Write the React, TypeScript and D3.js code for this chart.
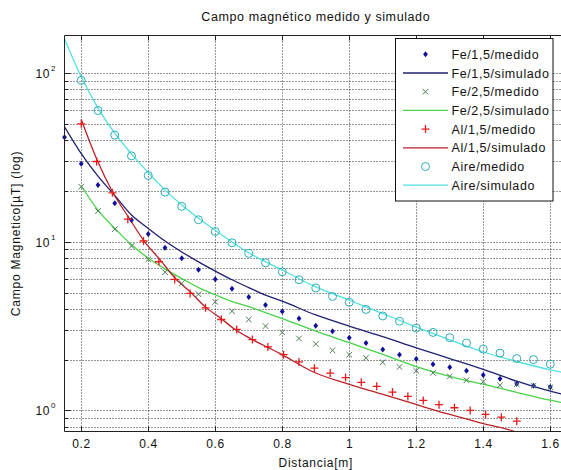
import React from 'react';
import * as d3 from 'd3';

// ---------- data ----------
const titleText = 'Campo magnético medido y simulado';
const xLabelText = 'Distancia[m]';
const yLabelText = 'Campo Magnetico[µT] (log)';

const xTickValues = [0.2, 0.4, 0.6, 0.8, 1.0, 1.2, 1.4, 1.6];
const xTickLabels = ['0.2', '0.4', '0.6', '0.8', '1', '1.2', '1.4', '1.6'];
const yDecadeValues = [1, 10, 100];
const yDecadeExponents = ['0', '1', '2'];

const xDomain = [0.15, 1.65];
const yDomain = [0.75, 167];

// Fe/1,5 medido
const xFe15Med = [0.15, 0.2, 0.25, 0.3, 0.35, 0.4, 0.45, 0.5, 0.55, 0.6, 0.65, 0.7, 0.75, 0.8, 0.85, 0.9, 0.95, 1.0, 1.05, 1.1, 1.15, 1.2, 1.25, 1.3, 1.35, 1.4, 1.45, 1.5, 1.55, 1.6];
const yFe15Med = [41.7, 28.96, 21.7, 16.9, 13.45, 11.1, 9.21, 7.97, 6.82, 6.0, 5.26, 4.71, 4.22, 3.86, 3.51, 3.18, 2.95, 2.7, 2.51, 2.3, 2.14, 2.02, 1.88, 1.8, 1.72, 1.62, 1.54, 1.44, 1.4, 1.375];
// Fe/1,5 simulado
const xFe15Sim = [0.15, 0.2, 0.25, 0.3, 0.35, 0.4, 0.45, 0.5, 0.55, 0.6, 0.65, 0.7, 0.75, 0.8, 0.9, 1.0, 1.1, 1.2, 1.3, 1.4, 1.5, 1.6, 1.65];
const yFe15Sim = [48, 33.3, 24.5, 18.8, 14.4, 12.0, 10.1, 8.7, 7.6, 6.7, 5.95, 5.35, 4.82, 4.44, 3.68, 3.16, 2.74, 2.35, 2.03, 1.75, 1.49, 1.3, 1.23];

// Fe/2,5 medido
const xFe25Med = [0.2, 0.25, 0.3, 0.35, 0.4, 0.45, 0.5, 0.55, 0.6, 0.65, 0.7, 0.75, 0.8, 0.85, 0.9, 0.95, 1.0, 1.05, 1.1, 1.15, 1.2, 1.25, 1.3, 1.35, 1.4, 1.45, 1.5, 1.55, 1.6];
const yFe25Med = [21.2, 15.2, 11.85, 9.43, 7.85, 6.6, 5.66, 4.89, 4.4, 3.87, 3.46, 3.16, 2.9, 2.67, 2.48, 2.27, 2.14, 2.05, 1.93, 1.81, 1.72, 1.67, 1.59, 1.51, 1.48, 1.41, 1.43, 1.4, 1.37];
// Fe/2,5 simulado
const xFe25Sim = [0.2, 0.25, 0.3, 0.35, 0.4, 0.45, 0.5, 0.55, 0.6, 0.65, 0.7, 0.75, 0.8, 0.9, 1.0, 1.1, 1.2, 1.3, 1.4, 1.5, 1.6, 1.65];
const yFe25Sim = [21.4, 15.4, 12.0, 9.6, 8.0, 6.9, 6.05, 5.35, 4.85, 4.42, 4.12, 3.8, 3.5, 2.95, 2.52, 2.15, 1.82, 1.59, 1.43, 1.28, 1.15, 1.1];

// Al/1,5 medido
const xAl15Med = [0.2, 0.246, 0.293, 0.339, 0.386, 0.432, 0.479, 0.525, 0.571, 0.618, 0.664, 0.711, 0.757, 0.804, 0.85, 0.896, 0.943, 0.989, 1.036, 1.082, 1.129, 1.175, 1.221, 1.268, 1.314, 1.361, 1.407, 1.454, 1.5];
const yAl15Med = [50.0, 29.9, 19.5, 13.6, 10.1, 7.61, 5.98, 4.94, 4.06, 3.46, 3.02, 2.63, 2.38, 2.14, 1.94, 1.78, 1.665, 1.565, 1.467, 1.389, 1.284, 1.211, 1.147, 1.081, 1.037, 1.0, 0.947, 0.912, 0.864];
// Al/1,5 simulado
const xAl15Sim = [0.2, 0.247, 0.293, 0.343, 0.386, 0.436, 0.481, 0.525, 0.57, 0.617, 0.655, 0.7, 0.754, 0.794, 0.893, 0.993, 1.093, 1.192, 1.292, 1.391, 1.49, 1.5];
const yAl15Sim = [53, 30.6, 19.8, 13.8, 10.2, 7.79, 6.06, 5.05, 4.11, 3.51, 3.06, 2.7, 2.38, 2.17, 1.69, 1.44, 1.257, 1.096, 0.956, 0.845, 0.753, 0.74];

// Aire medido
const xAireMed = [0.2, 0.25, 0.3, 0.35, 0.4, 0.45, 0.5, 0.55, 0.6, 0.65, 0.7, 0.75, 0.8, 0.85, 0.9, 0.95, 1.0, 1.05, 1.1, 1.15, 1.2, 1.25, 1.3, 1.35, 1.4, 1.45, 1.5, 1.55, 1.6];
const yAireMed = [90.5, 60.0, 42.9, 32.3, 24.7, 19.7, 16.2, 13.5, 11.5, 9.86, 8.53, 7.5, 6.63, 5.95, 5.32, 4.74, 4.38, 3.97, 3.63, 3.38, 3.08, 2.9, 2.7, 2.51, 2.31, 2.19, 2.03, 2.0, 1.88];
// Aire simulado
const xAireSim = [0.15, 0.2, 0.25, 0.3, 0.35, 0.4, 0.45, 0.5, 0.55, 0.6, 0.7, 0.8, 0.9, 1.0, 1.1, 1.2, 1.3, 1.4, 1.5, 1.6, 1.65];
const yAireSim = [160, 95, 62, 44, 33.2, 25.7, 20.3, 16.5, 13.8, 11.7, 8.6, 6.8, 5.4, 4.5, 3.75, 3.12, 2.62, 2.22, 1.95, 1.74, 1.66];

const legendLabels = [
  'Fe/1,5/medido',
  'Fe/1,5/simulado',
  'Fe/2,5/medido',
  'Fe/2,5/simulado',
  'Al/1,5/medido',
  'Al/1,5/simulado',
  'Aire/medido',
  'Aire/simulado',
];

// ---------- styling ----------
const W = 561;
const H = 470;
const PL = 64.5;
const PR = 567;
const PT = 35.5;
const PB = 431.5;
const FONT = '"Liberation Sans", Arial, Helvetica, sans-serif';

const C_BLUE_M = '#10109a';
const C_BLUE_L = '#202072';
const C_GREEN_M = '#4f7a58';
const C_GREEN_L = '#48d448';
const C_RED_M = '#e41c1c';
const C_RED_L = '#ba2229';
const C_CYAN_M = '#2eaeb6';
const C_CYAN_L = '#52e0e0';

type MarkerKind = 'diamond' | 'x' | 'plus' | 'circle';

function Marker({ kind, x, y, color }: { kind: MarkerKind; x: number; y: number; color: string }) {
  if (kind === 'diamond') {
    return <path d={`M${x},${y - 3} L${x + 2.4},${y} L${x},${y + 3} L${x - 2.4},${y} Z`} fill={color} stroke="none" />;
  }
  if (kind === 'x') {
    const s = 2.8;
    return (
      <path d={`M${x - s},${y - s} L${x + s},${y + s} M${x - s},${y + s} L${x + s},${y - s}`} stroke={color} strokeWidth={1} fill="none" />
    );
  }
  if (kind === 'plus') {
    const s = 4;
    return <path d={`M${x - s},${y} L${x + s},${y} M${x},${y - s} L${x},${y + s}`} stroke={color} strokeWidth={1.3} fill="none" />;
  }
  return <circle cx={x} cy={y} r={4} stroke={color} strokeWidth={1} fill="none" />;
}

export default function App() {
  const xs = d3.scaleLinear().domain(xDomain).range([PL, PR]);
  const ys = d3.scaleLog().domain(yDomain).range([PB, PT]);

  const yGridTicks = ys.ticks();

  const lineGen = d3
    .line<[number, number]>()
    .x((d) => xs(d[0]))
    .y((d) => ys(d[1]))
    .curve(d3.curveMonotoneX);

  const zip = (a: number[], b: number[]) => a.map((v, i) => [v, b[i]] as [number, number]);

  const measured: { xs: number[]; ys: number[]; kind: MarkerKind; color: string }[] = [
    { xs: xFe15Med, ys: yFe15Med, kind: 'diamond', color: C_BLUE_M },
    { xs: xFe25Med, ys: yFe25Med, kind: 'x', color: C_GREEN_M },
    { xs: xAl15Med, ys: yAl15Med, kind: 'plus', color: C_RED_M },
    { xs: xAireMed, ys: yAireMed, kind: 'circle', color: C_CYAN_M },
  ];
  const simulated: { xs: number[]; ys: number[]; color: string }[] = [
    { xs: xFe15Sim, ys: yFe15Sim, color: C_BLUE_L },
    { xs: xFe25Sim, ys: yFe25Sim, color: C_GREEN_L },
    { xs: xAl15Sim, ys: yAl15Sim, color: C_RED_L },
    { xs: xAireSim, ys: yAireSim, color: C_CYAN_L },
  ];

  const legendItems: { type: 'm' | 'l'; kind?: MarkerKind; color: string }[] = [
    { type: 'm', kind: 'diamond', color: C_BLUE_M },
    { type: 'l', color: C_BLUE_L },
    { type: 'm', kind: 'x', color: C_GREEN_M },
    { type: 'l', color: C_GREEN_L },
    { type: 'm', kind: 'plus', color: C_RED_M },
    { type: 'l', color: C_RED_L },
    { type: 'm', kind: 'circle', color: C_CYAN_M },
    { type: 'l', color: C_CYAN_L },
  ];

  const LX = 395.5;
  const LY = 38.5;
  const LW = 157.5;
  const LH = 162.5;
  const rowY0 = 54.3;
  const rowStep = 18.7;

  return (
    <svg
      width={W}
      height={H}
      style={{ position: 'absolute', left: 0, top: 0, background: '#fff', display: 'block' }}
      fontFamily={FONT}
    >
      <rect x={0} y={0} width={W} height={H} fill="#fff" />
      <defs>
        <clipPath id="plotClip">
          <rect x={PL} y={PT} width={PR - PL} height={PB - PT} />
        </clipPath>
      </defs>

      {/* grid */}
      <g stroke="#333" strokeWidth={1} strokeDasharray="1 2">
        {xTickValues.map((v, i) => (
          <line key={'gx' + i} x1={Math.round(xs(v)) + 0.5} x2={Math.round(xs(v)) + 0.5} y1={PT} y2={PB} />
        ))}
        {yGridTicks.map((v, i) => (
          <line key={'gy' + i} x1={PL} x2={PR} y1={Math.round(ys(v)) + 0.5} y2={Math.round(ys(v)) + 0.5} />
        ))}
      </g>

      {/* simulated lines */}
      <g clipPath="url(#plotClip)" fill="none">
        {simulated.map((s, i) => (
          <path key={'s' + i} d={lineGen(zip(s.xs, s.ys)) || ''} stroke={s.color} strokeWidth={1.3} />
        ))}
      </g>

      {/* measured markers */}
      <g>
        {measured.map((m, i) =>
          m.xs.map((xv, j) => <Marker key={`m${i}-${j}`} kind={m.kind} x={xs(xv)} y={ys(m.ys[j])} color={m.color} />)
        )}
      </g>

      {/* axes frame */}
      <g stroke="#222" strokeWidth={1} fill="none">
        <line x1={PL} x2={PL} y1={PT} y2={PB} />
        <line x1={PL} x2={PR} y1={PB} y2={PB} />
        <line x1={PL} x2={PR} y1={PT} y2={PT} />
        <line x1={PR} x2={PR} y1={PT} y2={PB} />
        {xTickValues.map((v, i) => {
          const x = Math.round(xs(v)) + 0.5;
          return (
            <g key={'tx' + i}>
              <line x1={x} x2={x} y1={PB} y2={PB - 5} />
              <line x1={x} x2={x} y1={PT} y2={PT + 5} />
            </g>
          );
        })}
        {yGridTicks.map((v, i) => {
          const y = Math.round(ys(v)) + 0.5;
          const major = yDecadeValues.includes(v);
          return <line key={'ty' + i} x1={PL} x2={PL + (major ? 6 : 3.5)} y1={y} y2={y} />;
        })}
      </g>

      {/* x tick labels */}
      <g fontSize={12} fill="#111" textAnchor="middle" letterSpacing={0.6}>
        {xTickValues.map((v, i) => (
          <text key={'xl' + i} x={xs(v) + 0.3} y={448}>
            {xTickLabels[i]}
          </text>
        ))}
      </g>

      {/* y tick labels */}
      <g fill="#111">
        {yDecadeValues.map((v, i) => {
          const y = ys(v);
          return (
            <g key={'yl' + i}>
              <text x={50} y={y + 4.8} fontSize={12} textAnchor="end" letterSpacing={0.6}>
                10
              </text>
              <text x={51} y={y - 2} fontSize={8} textAnchor="start">
                {yDecadeExponents[i]}
              </text>
            </g>
          );
        })}
      </g>

      {/* title and labels */}
      <text x={(PL + PR) / 2} y={20.5} fontSize={12.5} textAnchor="middle" fill="#111" letterSpacing={0.6}>
        {titleText}
      </text>
      <text x={(PL + PR) / 2} y={467} fontSize={12} textAnchor="middle" fill="#111" letterSpacing={0.7}>
        {xLabelText}
      </text>
      <text
        transform={`translate(20, ${(PT + PB) / 2}) rotate(-90)`}
        fontSize={12}
        textAnchor="middle"
        fill="#111"
        letterSpacing={0.8}
      >
        {yLabelText}
      </text>

      {/* legend */}
      <g>
        <rect x={LX} y={LY} width={LW} height={LH} fill="#fff" stroke="#111" strokeWidth={1} />
        {legendItems.map((it, i) => {
          const cy = rowY0 + i * rowStep;
          return (
            <g key={'lg' + i}>
              {it.type === 'l' ? (
                <line x1={403} x2={448} y1={cy} y2={cy} stroke={it.color} strokeWidth={1.3} />
              ) : (
                <Marker kind={it.kind as MarkerKind} x={425.5} y={cy} color={it.color} />
              )}
              <text x={451.5} y={cy + 4.5} fontSize={12.5} fill="#111" letterSpacing={0.6}>
                {legendLabels[i]}
              </text>
            </g>
          );
        })}
      </g>
    </svg>
  );
}
